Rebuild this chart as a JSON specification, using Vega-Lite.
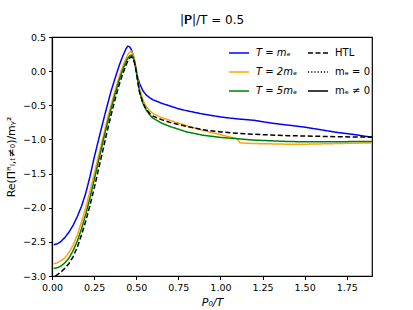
{
  "$schema": "https://vega.github.io/schema/vega-lite/v6.json",
  "autosize": {"type": "none"},
  "width": 320,
  "height": 239,
  "padding": {"left": 52, "top": 37, "right": 41, "bottom": 34},
  "background": "white",
  "config": {
    "font": "DejaVu Sans",
    "view": {"stroke": "black", "strokeWidth": 1.2, "strokeOpacity": 1},
    "axis": {"domainColor": "black", "domainWidth": 1.2, "domainOpacity": 1, "tickColor": "black", "labelColor": "black", "titleColor": "black", "labelFont": "DejaVu Sans", "titleFont": "DejaVu Sans", "labelFontSize": 9.5, "titleFontSize": 11, "titleFontWeight": "normal", "grid": false, "tickSize": 3.5, "labelFlush": false}
  },
  "title": {"text": "|𝐏|/T = 0.5", "fontSize": 12, "fontWeight": "normal", "font": "DejaVu Sans", "color": "black", "offset": 5},
  "datasets": {
    "d": [
      {"x":0.01,"y":-2.54,"s":"T = mₑ","k":"mₑ ≠ 0"},
      {"x":0.03,"y":-2.53,"s":"T = mₑ","k":"mₑ ≠ 0"},
      {"x":0.05,"y":-2.5,"s":"T = mₑ","k":"mₑ ≠ 0"},
      {"x":0.075,"y":-2.44,"s":"T = mₑ","k":"mₑ ≠ 0"},
      {"x":0.1,"y":-2.36,"s":"T = mₑ","k":"mₑ ≠ 0"},
      {"x":0.125,"y":-2.26,"s":"T = mₑ","k":"mₑ ≠ 0"},
      {"x":0.15,"y":-2.13,"s":"T = mₑ","k":"mₑ ≠ 0"},
      {"x":0.175,"y":-1.98,"s":"T = mₑ","k":"mₑ ≠ 0"},
      {"x":0.2,"y":-1.79,"s":"T = mₑ","k":"mₑ ≠ 0"},
      {"x":0.225,"y":-1.55,"s":"T = mₑ","k":"mₑ ≠ 0"},
      {"x":0.25,"y":-1.27,"s":"T = mₑ","k":"mₑ ≠ 0"},
      {"x":0.275,"y":-1.02,"s":"T = mₑ","k":"mₑ ≠ 0"},
      {"x":0.3,"y":-0.77,"s":"T = mₑ","k":"mₑ ≠ 0"},
      {"x":0.325,"y":-0.53,"s":"T = mₑ","k":"mₑ ≠ 0"},
      {"x":0.35,"y":-0.3,"s":"T = mₑ","k":"mₑ ≠ 0"},
      {"x":0.375,"y":-0.1,"s":"T = mₑ","k":"mₑ ≠ 0"},
      {"x":0.4,"y":0.09,"s":"T = mₑ","k":"mₑ ≠ 0"},
      {"x":0.42,"y":0.22,"s":"T = mₑ","k":"mₑ ≠ 0"},
      {"x":0.44,"y":0.33,"s":"T = mₑ","k":"mₑ ≠ 0"},
      {"x":0.45,"y":0.365,"s":"T = mₑ","k":"mₑ ≠ 0"},
      {"x":0.46,"y":0.36,"s":"T = mₑ","k":"mₑ ≠ 0"},
      {"x":0.47,"y":0.32,"s":"T = mₑ","k":"mₑ ≠ 0"},
      {"x":0.48,"y":0.25,"s":"T = mₑ","k":"mₑ ≠ 0"},
      {"x":0.49,"y":0.14,"s":"T = mₑ","k":"mₑ ≠ 0"},
      {"x":0.5,"y":0.0,"s":"T = mₑ","k":"mₑ ≠ 0"},
      {"x":0.51,"y":-0.1,"s":"T = mₑ","k":"mₑ ≠ 0"},
      {"x":0.52,"y":-0.18,"s":"T = mₑ","k":"mₑ ≠ 0"},
      {"x":0.54,"y":-0.29,"s":"T = mₑ","k":"mₑ ≠ 0"},
      {"x":0.56,"y":-0.35,"s":"T = mₑ","k":"mₑ ≠ 0"},
      {"x":0.58,"y":-0.39,"s":"T = mₑ","k":"mₑ ≠ 0"},
      {"x":0.6,"y":-0.42,"s":"T = mₑ","k":"mₑ ≠ 0"},
      {"x":0.65,"y":-0.47,"s":"T = mₑ","k":"mₑ ≠ 0"},
      {"x":0.7,"y":-0.51,"s":"T = mₑ","k":"mₑ ≠ 0"},
      {"x":0.75,"y":-0.55,"s":"T = mₑ","k":"mₑ ≠ 0"},
      {"x":0.8,"y":-0.58,"s":"T = mₑ","k":"mₑ ≠ 0"},
      {"x":0.9,"y":-0.63,"s":"T = mₑ","k":"mₑ ≠ 0"},
      {"x":1.0,"y":-0.67,"s":"T = mₑ","k":"mₑ ≠ 0"},
      {"x":1.1,"y":-0.7,"s":"T = mₑ","k":"mₑ ≠ 0"},
      {"x":1.2,"y":-0.72,"s":"T = mₑ","k":"mₑ ≠ 0"},
      {"x":1.3,"y":-0.76,"s":"T = mₑ","k":"mₑ ≠ 0"},
      {"x":1.4,"y":-0.79,"s":"T = mₑ","k":"mₑ ≠ 0"},
      {"x":1.5,"y":-0.82,"s":"T = mₑ","k":"mₑ ≠ 0"},
      {"x":1.6,"y":-0.86,"s":"T = mₑ","k":"mₑ ≠ 0"},
      {"x":1.7,"y":-0.9,"s":"T = mₑ","k":"mₑ ≠ 0"},
      {"x":1.8,"y":-0.93,"s":"T = mₑ","k":"mₑ ≠ 0"},
      {"x":1.9,"y":-0.97,"s":"T = mₑ","k":"mₑ ≠ 0"},

      {"x":0.01,"y":-2.82,"s":"T = 2mₑ","k":"mₑ ≠ 0"},
      {"x":0.03,"y":-2.81,"s":"T = 2mₑ","k":"mₑ ≠ 0"},
      {"x":0.05,"y":-2.78,"s":"T = 2mₑ","k":"mₑ ≠ 0"},
      {"x":0.075,"y":-2.74,"s":"T = 2mₑ","k":"mₑ ≠ 0"},
      {"x":0.1,"y":-2.66,"s":"T = 2mₑ","k":"mₑ ≠ 0"},
      {"x":0.125,"y":-2.55,"s":"T = 2mₑ","k":"mₑ ≠ 0"},
      {"x":0.15,"y":-2.4,"s":"T = 2mₑ","k":"mₑ ≠ 0"},
      {"x":0.175,"y":-2.21,"s":"T = 2mₑ","k":"mₑ ≠ 0"},
      {"x":0.2,"y":-2.0,"s":"T = 2mₑ","k":"mₑ ≠ 0"},
      {"x":0.225,"y":-1.76,"s":"T = 2mₑ","k":"mₑ ≠ 0"},
      {"x":0.25,"y":-1.51,"s":"T = 2mₑ","k":"mₑ ≠ 0"},
      {"x":0.275,"y":-1.25,"s":"T = 2mₑ","k":"mₑ ≠ 0"},
      {"x":0.3,"y":-1.0,"s":"T = 2mₑ","k":"mₑ ≠ 0"},
      {"x":0.325,"y":-0.74,"s":"T = 2mₑ","k":"mₑ ≠ 0"},
      {"x":0.35,"y":-0.5,"s":"T = 2mₑ","k":"mₑ ≠ 0"},
      {"x":0.375,"y":-0.28,"s":"T = 2mₑ","k":"mₑ ≠ 0"},
      {"x":0.4,"y":-0.07,"s":"T = 2mₑ","k":"mₑ ≠ 0"},
      {"x":0.42,"y":0.07,"s":"T = 2mₑ","k":"mₑ ≠ 0"},
      {"x":0.44,"y":0.19,"s":"T = 2mₑ","k":"mₑ ≠ 0"},
      {"x":0.45,"y":0.24,"s":"T = 2mₑ","k":"mₑ ≠ 0"},
      {"x":0.46,"y":0.275,"s":"T = 2mₑ","k":"mₑ ≠ 0"},
      {"x":0.47,"y":0.29,"s":"T = 2mₑ","k":"mₑ ≠ 0"},
      {"x":0.48,"y":0.26,"s":"T = 2mₑ","k":"mₑ ≠ 0"},
      {"x":0.49,"y":0.17,"s":"T = 2mₑ","k":"mₑ ≠ 0"},
      {"x":0.5,"y":0.03,"s":"T = 2mₑ","k":"mₑ ≠ 0"},
      {"x":0.51,"y":-0.13,"s":"T = 2mₑ","k":"mₑ ≠ 0"},
      {"x":0.52,"y":-0.26,"s":"T = 2mₑ","k":"mₑ ≠ 0"},
      {"x":0.54,"y":-0.42,"s":"T = 2mₑ","k":"mₑ ≠ 0"},
      {"x":0.56,"y":-0.52,"s":"T = 2mₑ","k":"mₑ ≠ 0"},
      {"x":0.58,"y":-0.58,"s":"T = 2mₑ","k":"mₑ ≠ 0"},
      {"x":0.6,"y":-0.62,"s":"T = 2mₑ","k":"mₑ ≠ 0"},
      {"x":0.65,"y":-0.68,"s":"T = 2mₑ","k":"mₑ ≠ 0"},
      {"x":0.7,"y":-0.72,"s":"T = 2mₑ","k":"mₑ ≠ 0"},
      {"x":0.75,"y":-0.76,"s":"T = 2mₑ","k":"mₑ ≠ 0"},
      {"x":0.8,"y":-0.8,"s":"T = 2mₑ","k":"mₑ ≠ 0"},
      {"x":0.9,"y":-0.87,"s":"T = 2mₑ","k":"mₑ ≠ 0"},
      {"x":1.0,"y":-0.93,"s":"T = 2mₑ","k":"mₑ ≠ 0"},
      {"x":1.05,"y":-0.96,"s":"T = 2mₑ","k":"mₑ ≠ 0"},
      {"x":1.1,"y":-0.99,"s":"T = 2mₑ","k":"mₑ ≠ 0"},
      {"x":1.115,"y":-1.05,"s":"T = 2mₑ","k":"mₑ ≠ 0"},
      {"x":1.2,"y":-1.06,"s":"T = 2mₑ","k":"mₑ ≠ 0"},
      {"x":1.3,"y":-1.065,"s":"T = 2mₑ","k":"mₑ ≠ 0"},
      {"x":1.4,"y":-1.07,"s":"T = 2mₑ","k":"mₑ ≠ 0"},
      {"x":1.5,"y":-1.07,"s":"T = 2mₑ","k":"mₑ ≠ 0"},
      {"x":1.6,"y":-1.065,"s":"T = 2mₑ","k":"mₑ ≠ 0"},
      {"x":1.7,"y":-1.06,"s":"T = 2mₑ","k":"mₑ ≠ 0"},
      {"x":1.8,"y":-1.055,"s":"T = 2mₑ","k":"mₑ ≠ 0"},
      {"x":1.9,"y":-1.05,"s":"T = 2mₑ","k":"mₑ ≠ 0"},

      {"x":0.01,"y":-2.89,"s":"T = 5mₑ","k":"mₑ ≠ 0"},
      {"x":0.03,"y":-2.88,"s":"T = 5mₑ","k":"mₑ ≠ 0"},
      {"x":0.05,"y":-2.86,"s":"T = 5mₑ","k":"mₑ ≠ 0"},
      {"x":0.075,"y":-2.81,"s":"T = 5mₑ","k":"mₑ ≠ 0"},
      {"x":0.1,"y":-2.74,"s":"T = 5mₑ","k":"mₑ ≠ 0"},
      {"x":0.125,"y":-2.63,"s":"T = 5mₑ","k":"mₑ ≠ 0"},
      {"x":0.15,"y":-2.49,"s":"T = 5mₑ","k":"mₑ ≠ 0"},
      {"x":0.175,"y":-2.31,"s":"T = 5mₑ","k":"mₑ ≠ 0"},
      {"x":0.2,"y":-2.1,"s":"T = 5mₑ","k":"mₑ ≠ 0"},
      {"x":0.225,"y":-1.86,"s":"T = 5mₑ","k":"mₑ ≠ 0"},
      {"x":0.25,"y":-1.6,"s":"T = 5mₑ","k":"mₑ ≠ 0"},
      {"x":0.275,"y":-1.33,"s":"T = 5mₑ","k":"mₑ ≠ 0"},
      {"x":0.3,"y":-1.06,"s":"T = 5mₑ","k":"mₑ ≠ 0"},
      {"x":0.325,"y":-0.8,"s":"T = 5mₑ","k":"mₑ ≠ 0"},
      {"x":0.35,"y":-0.56,"s":"T = 5mₑ","k":"mₑ ≠ 0"},
      {"x":0.375,"y":-0.33,"s":"T = 5mₑ","k":"mₑ ≠ 0"},
      {"x":0.4,"y":-0.12,"s":"T = 5mₑ","k":"mₑ ≠ 0"},
      {"x":0.42,"y":0.02,"s":"T = 5mₑ","k":"mₑ ≠ 0"},
      {"x":0.44,"y":0.14,"s":"T = 5mₑ","k":"mₑ ≠ 0"},
      {"x":0.45,"y":0.19,"s":"T = 5mₑ","k":"mₑ ≠ 0"},
      {"x":0.46,"y":0.22,"s":"T = 5mₑ","k":"mₑ ≠ 0"},
      {"x":0.47,"y":0.235,"s":"T = 5mₑ","k":"mₑ ≠ 0"},
      {"x":0.48,"y":0.22,"s":"T = 5mₑ","k":"mₑ ≠ 0"},
      {"x":0.49,"y":0.14,"s":"T = 5mₑ","k":"mₑ ≠ 0"},
      {"x":0.5,"y":0.02,"s":"T = 5mₑ","k":"mₑ ≠ 0"},
      {"x":0.51,"y":-0.16,"s":"T = 5mₑ","k":"mₑ ≠ 0"},
      {"x":0.52,"y":-0.3,"s":"T = 5mₑ","k":"mₑ ≠ 0"},
      {"x":0.54,"y":-0.47,"s":"T = 5mₑ","k":"mₑ ≠ 0"},
      {"x":0.56,"y":-0.57,"s":"T = 5mₑ","k":"mₑ ≠ 0"},
      {"x":0.58,"y":-0.64,"s":"T = 5mₑ","k":"mₑ ≠ 0"},
      {"x":0.6,"y":-0.69,"s":"T = 5mₑ","k":"mₑ ≠ 0"},
      {"x":0.65,"y":-0.76,"s":"T = 5mₑ","k":"mₑ ≠ 0"},
      {"x":0.7,"y":-0.81,"s":"T = 5mₑ","k":"mₑ ≠ 0"},
      {"x":0.75,"y":-0.85,"s":"T = 5mₑ","k":"mₑ ≠ 0"},
      {"x":0.8,"y":-0.89,"s":"T = 5mₑ","k":"mₑ ≠ 0"},
      {"x":0.9,"y":-0.94,"s":"T = 5mₑ","k":"mₑ ≠ 0"},
      {"x":1.0,"y":-0.97,"s":"T = 5mₑ","k":"mₑ ≠ 0"},
      {"x":1.1,"y":-0.99,"s":"T = 5mₑ","k":"mₑ ≠ 0"},
      {"x":1.2,"y":-1.01,"s":"T = 5mₑ","k":"mₑ ≠ 0"},
      {"x":1.3,"y":-1.02,"s":"T = 5mₑ","k":"mₑ ≠ 0"},
      {"x":1.4,"y":-1.03,"s":"T = 5mₑ","k":"mₑ ≠ 0"},
      {"x":1.5,"y":-1.035,"s":"T = 5mₑ","k":"mₑ ≠ 0"},
      {"x":1.6,"y":-1.035,"s":"T = 5mₑ","k":"mₑ ≠ 0"},
      {"x":1.7,"y":-1.035,"s":"T = 5mₑ","k":"mₑ ≠ 0"},
      {"x":1.8,"y":-1.03,"s":"T = 5mₑ","k":"mₑ ≠ 0"},
      {"x":1.9,"y":-1.03,"s":"T = 5mₑ","k":"mₑ ≠ 0"},

      {"x":0.02,"y":-3.0,"s":"HTL","k":"HTL"},
      {"x":0.05,"y":-2.95,"s":"HTL","k":"HTL"},
      {"x":0.075,"y":-2.89,"s":"HTL","k":"HTL"},
      {"x":0.1,"y":-2.82,"s":"HTL","k":"HTL"},
      {"x":0.125,"y":-2.72,"s":"HTL","k":"HTL"},
      {"x":0.15,"y":-2.58,"s":"HTL","k":"HTL"},
      {"x":0.175,"y":-2.4,"s":"HTL","k":"HTL"},
      {"x":0.2,"y":-2.2,"s":"HTL","k":"HTL"},
      {"x":0.225,"y":-1.97,"s":"HTL","k":"HTL"},
      {"x":0.25,"y":-1.72,"s":"HTL","k":"HTL"},
      {"x":0.275,"y":-1.45,"s":"HTL","k":"HTL"},
      {"x":0.3,"y":-1.18,"s":"HTL","k":"HTL"},
      {"x":0.325,"y":-0.91,"s":"HTL","k":"HTL"},
      {"x":0.35,"y":-0.65,"s":"HTL","k":"HTL"},
      {"x":0.375,"y":-0.41,"s":"HTL","k":"HTL"},
      {"x":0.4,"y":-0.19,"s":"HTL","k":"HTL"},
      {"x":0.42,"y":-0.04,"s":"HTL","k":"HTL"},
      {"x":0.44,"y":0.09,"s":"HTL","k":"HTL"},
      {"x":0.45,"y":0.15,"s":"HTL","k":"HTL"},
      {"x":0.46,"y":0.19,"s":"HTL","k":"HTL"},
      {"x":0.47,"y":0.21,"s":"HTL","k":"HTL"},
      {"x":0.48,"y":0.19,"s":"HTL","k":"HTL"},
      {"x":0.49,"y":0.12,"s":"HTL","k":"HTL"},
      {"x":0.5,"y":0.0,"s":"HTL","k":"HTL"},
      {"x":0.51,"y":-0.17,"s":"HTL","k":"HTL"},
      {"x":0.52,"y":-0.31,"s":"HTL","k":"HTL"},
      {"x":0.54,"y":-0.47,"s":"HTL","k":"HTL"},
      {"x":0.56,"y":-0.56,"s":"HTL","k":"HTL"},
      {"x":0.58,"y":-0.62,"s":"HTL","k":"HTL"},
      {"x":0.6,"y":-0.66,"s":"HTL","k":"HTL"},
      {"x":0.65,"y":-0.71,"s":"HTL","k":"HTL"},
      {"x":0.7,"y":-0.75,"s":"HTL","k":"HTL"},
      {"x":0.75,"y":-0.78,"s":"HTL","k":"HTL"},
      {"x":0.8,"y":-0.81,"s":"HTL","k":"HTL"},
      {"x":0.9,"y":-0.86,"s":"HTL","k":"HTL"},
      {"x":1.0,"y":-0.89,"s":"HTL","k":"HTL"},
      {"x":1.1,"y":-0.91,"s":"HTL","k":"HTL"},
      {"x":1.2,"y":-0.925,"s":"HTL","k":"HTL"},
      {"x":1.3,"y":-0.935,"s":"HTL","k":"HTL"},
      {"x":1.4,"y":-0.945,"s":"HTL","k":"HTL"},
      {"x":1.5,"y":-0.95,"s":"HTL","k":"HTL"},
      {"x":1.6,"y":-0.955,"s":"HTL","k":"HTL"},
      {"x":1.7,"y":-0.96,"s":"HTL","k":"HTL"},
      {"x":1.8,"y":-0.965,"s":"HTL","k":"HTL"},
      {"x":1.9,"y":-0.965,"s":"HTL","k":"HTL"}
    ]
  },
  "data": {"name": "d"},
  "layer": [
    {
      "mark": {"type": "line", "strokeWidth": 1.5, "clip": true},
      "encoding": {
        "x": {
          "field": "x", "type": "quantitative",
          "scale": {"domain": [0, 1.9], "nice": false, "zero": false},
          "axis": {"values": [0, 0.25, 0.5, 0.75, 1.0, 1.25, 1.5, 1.75], "format": ".2f", "title": "P₀/T", "titleFontStyle": "italic", "titlePadding": 4, "domain": true, "labelPadding": 3}
        },
        "y": {
          "field": "y", "type": "quantitative",
          "scale": {"domain": [-3, 0.5], "nice": false, "zero": false},
          "axis": {"values": [-3, -2.5, -2, -1.5, -1, -0.5, 0, 0.5], "labelExpr": "replace(format(datum.value, '.1f'), '-', '−')", "title": "Re(Πᴿₗ,ₜ≠₀)/mᵧ²", "titlePadding": 6, "domain": true, "labelPadding": 3}
        },
        "color": {
          "field": "s", "type": "nominal",
          "scale": {"domain": ["T = mₑ", "T = 2mₑ", "T = 5mₑ", "HTL"], "range": ["#0000ff", "#ffa500", "#008000", "#000000"]},
          "legend": {"values": ["T = mₑ", "T = 2mₑ", "T = 5mₑ"], "title": null, "orient": "none", "legendX": 176, "legendY": 5, "symbolType": "stroke", "symbolSize": 400, "symbolStrokeWidth": 1.5, "labelFontSize": 10, "labelFontStyle": "italic", "labelColor": "black", "rowPadding": 3, "labelOffset": 6}
        },
        "strokeDash": {
          "field": "k", "type": "nominal",
          "scale": {"domain": ["HTL", "mₑ = 0", "mₑ ≠ 0"], "range": [[5, 2.5], [1.2, 2], [1, 0]]},
          "legend": {"title": null, "orient": "none", "legendX": 255, "legendY": 5, "symbolType": "stroke", "symbolSize": 400, "symbolStrokeWidth": 1.5, "symbolStrokeColor": "black", "labelFontSize": 10, "labelColor": "black", "rowPadding": 3, "labelOffset": 6}
        },
        "detail": {"field": "s"}
      }
    }
  ]
}
